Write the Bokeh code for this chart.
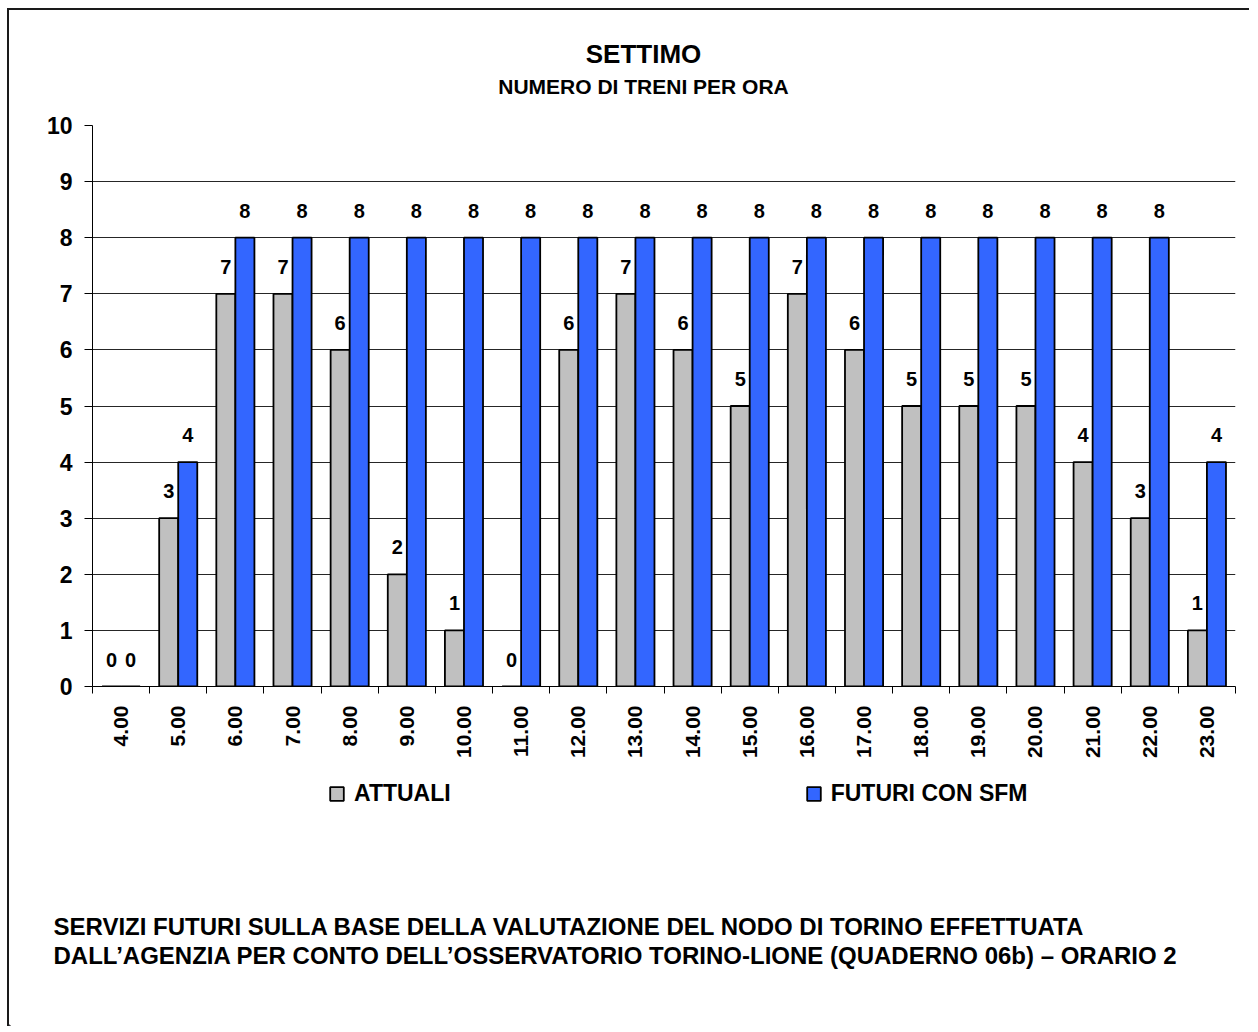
import numpy as np
from bokeh.plotting import figure
from bokeh.layouts import column, row
from bokeh.models import (FixedTicker, Label, Legend, LegendItem,
                          ColumnDataSource, Range1d)
from bokeh.embed import file_html
from bokeh.resources import INLINE
from bokeh.core.properties import value

hours = ["4.00", "5.00", "6.00", "7.00", "8.00", "9.00", "10.00", "11.00", "12.00", "13.00",
         "14.00", "15.00", "16.00", "17.00", "18.00", "19.00", "20.00", "21.00", "22.00", "23.00"]
attuali = [0, 3, 7, 7, 6, 2, 1, 0, 6, 7, 6, 5, 7, 6, 5, 5, 5, 4, 3, 1]
futuri = [0, 4, 8, 8, 8, 8, 8, 8, 8, 8, 8, 8, 8, 8, 8, 8, 8, 8, 8, 4]
y_ticks = list(range(0, 11))

title_main = "SETTIMO"
title_sub = "NUMERO DI TRENI PER ORA"
legend_labels = ["ATTUALI", "FUTURI CON SFM"]
footer = ["SERVIZI FUTURI SULLA BASE DELLA VALUTAZIONE DEL NODO DI TORINO EFFETTUATA",
          "DALL\u2019AGENZIA PER CONTO DELL\u2019OSSERVATORIO TORINO-LIONE (QUADERNO 06b) \u2013 ORARIO 2"]

GREY = "#C0C0C0"
BLUE = "#3366FF"
FONT = "Liberation Sans"
W = 1240


def blank(height):
    f = figure(width=W, height=height, output_backend="svg", toolbar_location=None,
               x_range=Range1d(0, W), y_range=Range1d(0, height),
               x_axis_location=None, y_axis_location=None, min_border=0,
               frame_width=W, frame_height=height)
    f.outline_line_color = None
    f.xgrid.grid_line_color = None
    f.ygrid.grid_line_color = None
    return f


# ---------------- top: titles ----------------
top = blank(95)
top.add_layout(Label(x=634, y=52, x_units="screen", y_units="screen", text=title_main,
                     text_align="center", text_baseline="middle", text_font=FONT,
                     text_font_style="bold", text_font_size="26px", text_color="black"))
top.add_layout(Label(x=634, y=19, x_units="screen", y_units="screen", text=title_sub,
                     text_align="center", text_baseline="middle", text_font=FONT,
                     text_font_style="bold", text_font_size="21px", text_color="black"))

# ---------------- main chart ----------------
n = len(hours)
centers = np.arange(n) + 0.5
x_att = centers - 1 / 6
x_fut = centers + 1 / 6

src = ColumnDataSource(dict(
    x_att=x_att, x_fut=x_fut, att=attuali, fut=futuri,
    att_t=[str(v) for v in attuali], fut_t=[str(v) for v in futuri],
))

p = figure(width=W, height=670, output_backend="svg", toolbar_location=None,
           x_range=Range1d(0, n), y_range=Range1d(0, 10),
           min_border_left=83, min_border_top=20, min_border_right=14,
           min_border_bottom=89, frame_width=1143, frame_height=561)
p.outline_line_color = None

p.vbar(x="x_att", top="att", width=1 / 3, source=src, fill_color=GREY,
       line_color="black", line_width=1.8)
p.vbar(x="x_fut", top="fut", width=1 / 3, source=src, fill_color=BLUE,
       line_color="black", line_width=1.8)

for xf, yf, tf in (("x_att", "att", "att_t"), ("x_fut", "fut", "fut_t")):
    p.text(x=xf, y=yf, text=tf, source=src, text_align="center",
           text_baseline="alphabetic", y_offset=-27, text_font=value(FONT),
           text_font_style="bold", text_font_size="20px", text_color="black")

p.xaxis.ticker = FixedTicker(ticks=list(centers), minor_ticks=list(range(n + 1)))
p.xaxis.major_label_overrides = {float(c): h for c, h in zip(centers, hours)}
p.xaxis.major_label_orientation = np.pi / 2
p.xaxis.major_tick_out = 0
p.xaxis.major_tick_in = 0
p.xaxis.minor_tick_out = 7
p.xaxis.minor_tick_in = 0
p.xaxis.minor_tick_line_color = "black"
p.xaxis.axis_line_color = "black"
p.xaxis.major_label_standoff = 12
p.xaxis.major_label_text_font = FONT
p.xaxis.major_label_text_font_style = "bold"
p.xaxis.major_label_text_font_size = "21px"
p.xaxis.major_label_text_color = "black"

p.yaxis.ticker = FixedTicker(ticks=y_ticks)
p.yaxis.major_tick_out = 8
p.yaxis.major_tick_in = 0
p.yaxis.minor_tick_line_color = None
p.yaxis.axis_line_color = "black"
p.yaxis.major_tick_line_color = "black"
p.yaxis.major_label_standoff = 12
p.yaxis.major_label_text_font = FONT
p.yaxis.major_label_text_font_style = "bold"
p.yaxis.major_label_text_font_size = "23px"
p.yaxis.major_label_text_color = "black"

p.xgrid.grid_line_color = None
p.ygrid.grid_line_color = "black"
p.ygrid.grid_line_width = 1
p.ygrid.grid_line_alpha = 0.85

# ---------------- bottom: legend + footer ----------------
bot = blank(251)
# legend-only renderers: one point placed far outside the visible range
proxy = ColumnDataSource(dict(x=[-5000], top=[1]))
la = bot.vbar(x="x", top="top", width=1, source=proxy, fill_color=GREY,
              line_color="black", line_width=1.8)
lf = bot.vbar(x="x", top="top", width=1, source=proxy, fill_color=BLUE,
              line_color="black", line_width=1.8)
legend = Legend(items=[LegendItem(label=legend_labels[0], renderers=[la]),
                       LegendItem(label=legend_labels[1], renderers=[lf])],
                orientation="horizontal", location=(319, 219), spacing=354, padding=0,
                margin=0, glyph_width=17, glyph_height=17, label_standoff=9,
                border_line_color=None, background_fill_alpha=0,
                label_text_font=FONT, label_text_font_style="bold",
                label_text_font_size="23px", label_text_color="black")
bot.add_layout(legend, "center")

for i, line in enumerate(footer):
    bot.add_layout(Label(x=44, y=100 - 29 * i, x_units="screen", y_units="screen", text=line,
                         text_align="left", text_baseline="middle", text_font=FONT,
                         text_font_style="bold", text_font_size="24px", text_color="black"))

layout = column(row(top), p, row(bot), spacing=0,
                styles={"border-top": "2px solid #1a1a1a", "border-left": "2px solid #1a1a1a",
                        "margin-top": "8px", "margin-left": "7px"})

open("out.html", "w").write(file_html(layout, INLINE))
